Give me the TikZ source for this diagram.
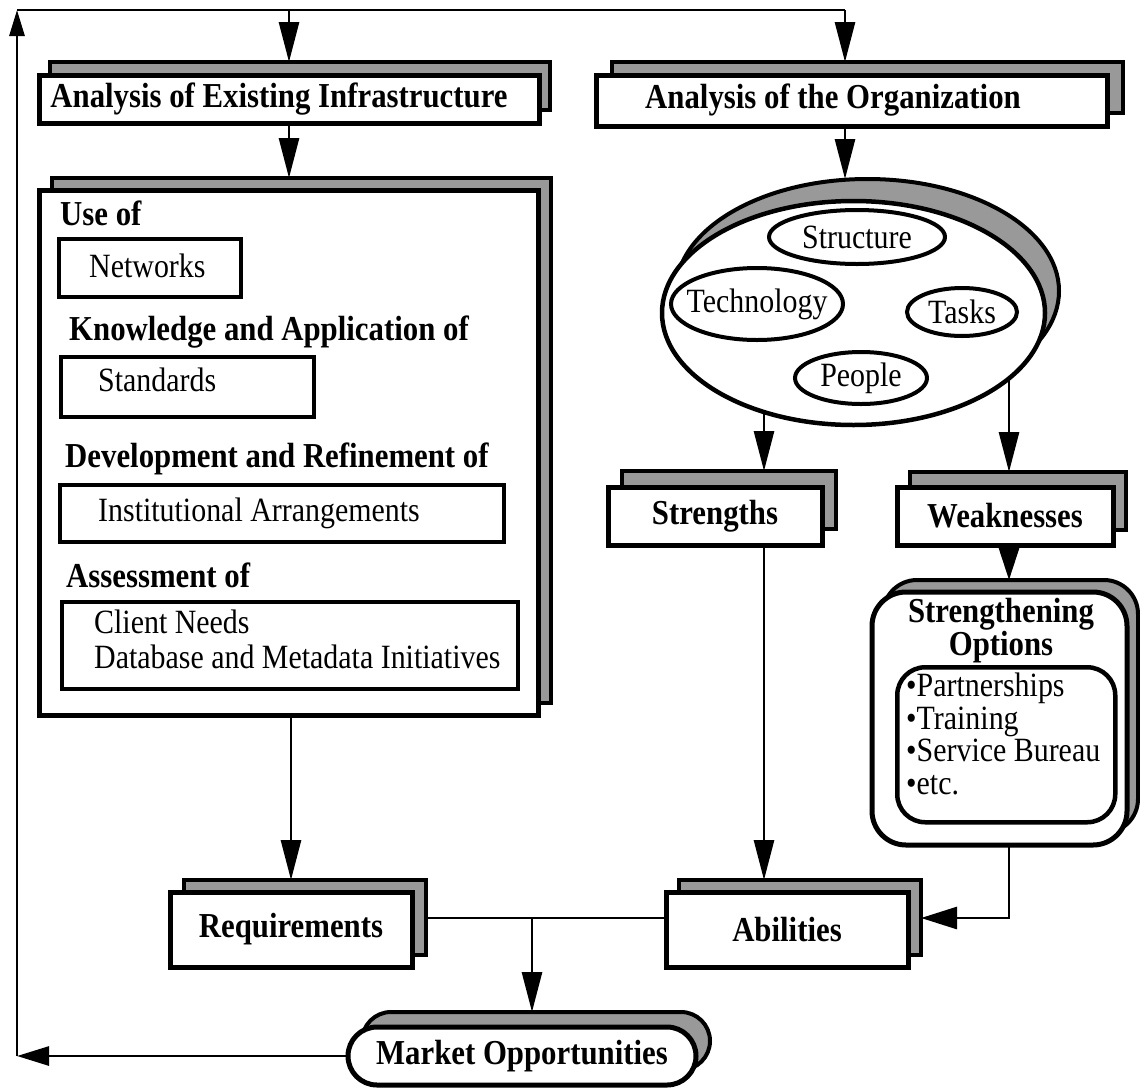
\documentclass[tikz,border=0pt]{standalone}
\usepackage{fontspec}
\setmainfont{Liberation Serif}[FakeStretch=0.88]
\usetikzlibrary{shadows,arrows.meta,calc,backgrounds,shapes.geometric,shapes.misc}
\definecolor{shadegray}{gray}{0.6}
\newcommand\boldlabel{\fontsize{35}{36}\selectfont\bfseries}
\newcommand\plainlabel{\fontsize{34}{35}\selectfont}
\tikzset{
  conn/.style={line width=2.8pt},
  bigtip/.style={-{Triangle[length=40pt,width=20pt]}},
  medtip/.style={-{Triangle[length=32pt,width=20pt]}},
  sidetip/.style={-{Triangle[length=36pt,width=22pt]}},
  lefttip/.style={-{Triangle[length=32pt,width=19pt]}},
  uptip/.style={-{Triangle[length=26pt,width=15pt]}},
  frontbox/.style={draw=black, line width=5pt, fill=white, inner sep=0pt, outer sep=0pt},
  shadowed/.style 2 args={copy shadow={shadow xshift=#1pt, shadow yshift=#2pt,
      fill=shadegray, draw=black, line width=4pt}},
  headlbl/.style={font=\boldlabel, inner sep=0pt},
  plainlbl/.style={font=\plainlabel, inner sep=0pt},
  itembox/.style={draw=black, line width=4pt, fill=white, inner sep=0pt, anchor=north west},
  oval/.style={ellipse, draw=black, line width=4pt, fill=white, inner sep=0pt,
      label={[font=\plainlabel, inner sep=0pt]center:#1}},
}
\begin{document}
\begin{tikzpicture}[x=1pt,y=-1pt]
\useasboundingbox (0,0) rectangle (1140,1087);

% ---- top row ----
\node[frontbox, shadowed={11}{13}, minimum width=500pt, minimum height=48pt, font=\boldlabel]
  (box1) at (289,99) {\hspace*{-20pt}Analysis of Existing Infrastructure};
\node[frontbox, shadowed={15}{13}, minimum width=511pt, minimum height=51pt, font=\boldlabel]
  (box2) at (852,100.5) {\hspace*{-38pt}Analysis of the Organization};

% ---- infrastructure panel ----
\node[frontbox, shadowed={12}{12}, minimum width=499pt, minimum height=525pt]
  (infra) at (289,452.5) {};
\node[headlbl, anchor=base west] (useof) at (60,225) {Use of};
\node[itembox, minimum width=182pt, minimum height=58pt] (netbox) at (57,237) {};
\node[plainlbl, anchor=base west] (nettxt) at (89,277) {Networks};
\node[headlbl, anchor=base west] (knowof) at (69,340) {Knowledge and Application of};
\node[itembox, minimum width=253pt, minimum height=60pt] (stdbox) at (59,355) {};
\node[plainlbl, anchor=base west] (stdtxt) at (98,391) {Standards};
\node[headlbl, anchor=base west] (devof) at (65,467) {Development and Refinement of};
\node[itembox, minimum width=444pt, minimum height=57pt] (instbox) at (58,483) {};
\node[plainlbl, anchor=base west] (insttxt) at (98,521) {Institutional Arrangements};
\node[headlbl, anchor=base west] (assessof) at (66,587) {Assessment of};
\node[itembox, minimum width=456pt, minimum height=87pt] (dbbox) at (60,600) {};
\node[plainlbl, anchor=base west] (clienttxt) at (94,633) {Client Needs};
\node[plainlbl, anchor=base west] (dbtxt) at (94,668) {Database and Metadata Initiatives};

% ---- organization ----
\node[ellipse, draw=black, fill=white, line width=4.5pt, inner sep=0pt,
      shadowed={14}{22}, minimum width=383pt, minimum height=224pt]
  (org) at (853.5,313) {};
\node[oval={Structure}, minimum width=176pt, minimum height=54pt] (structure) at (857,237) {};
\node[oval={Technology}, minimum width=172pt, minimum height=72pt] (technology) at (757,304) {};
\node[oval={Tasks}, minimum width=110pt, minimum height=48pt] (tasks) at (962,312) {};
\node[oval={People}, minimum width=132pt, minimum height=52pt] (people) at (861,378) {};

\node[frontbox, shadowed={14}{16}, minimum width=214pt, minimum height=58pt, font=\boldlabel]
  (strengths) at (715,516) {Strengths};
\node[frontbox, shadowed={13}{15}, minimum width=216pt, minimum height=58pt, font=\boldlabel]
  (weak) at (1005,516) {Weaknesses};

% ---- strengthening options ----
\node[frontbox, rounded corners=34pt, shadowed={11}{12}, minimum width=255pt, minimum height=253pt]
  (opts) at (999.5,718.5) {};
\node[headlbl, anchor=base] (optsA) at (1001,622) {Strengthening};
\node[headlbl, anchor=base] (optsB) at (1001,655) {Options};
\node[itembox, rounded corners=28pt, line width=4.5pt, minimum width=218pt, minimum height=155pt]
  (optlist) at (895,665) {};
\node[plainlbl, anchor=north west, align=left, font=\fontsize{34}{32.5}\selectfont]
  (optitems) at (906,673) {•Partnerships\\•Training\\•Service Bureau\\•etc.};

% ---- bottom row ----
\node[frontbox, shadowed={14}{12}, minimum width=242pt, minimum height=75pt, font=\boldlabel]
  (req) at (291,929.5) {Requirements};
\node[frontbox, shadowed={13}{12}, minimum width=242pt, minimum height=75pt, font=\boldlabel]
  (abil) at (787,929.5) {Abilities};
\node[frontbox, rounded rectangle, shadowed={14}{15}, minimum width=348pt, minimum height=58pt, font=\boldlabel]
  (market) at (522,1056) {Market Opportunities};

% ---- connectors ----
\coordinate (tl) at (17,10);
\coordinate (tr) at (845,10);
\coordinate (orgtop) at (845,179);
\coordinate (sx) at (764,0);
\coordinate (wx) at (1009,0);
\coordinate (jx) at (532,0);
\coordinate (ry) at (0,918);
\begin{scope}[on background layer]
  \draw[conn] (tl) -- (tr);
  \draw[conn,bigtip] (tl -| box1.north) -- ($(box1.north)+(0,13pt)$);
  \draw[conn,bigtip] (tr) -- ($(tr |- box2.north)+(0,13pt)$);
  \draw[conn,bigtip] (box1.south) -- ($(box1.south |- infra.north)+(0,12pt)$);
  \draw[conn,bigtip] (tr |- box2.south) -- (orgtop);
  \draw[conn,bigtip] (sx |- org.center) -- ($(sx |- strengths.north)+(0,16pt)$);
  \draw[conn,bigtip] (wx |- org.center) -- ($(wx |- weak.north)+(0,15pt)$);
  \draw[conn,medtip] (wx |- weak.south) -- ($(wx |- opts.north)+(0,12pt)$);
  \draw[conn,bigtip] (sx |- strengths.south) -- ($(sx |- abil.north)+(0,12pt)$);
  \draw[conn,sidetip] (wx |- opts.south) -- (wx |- ry) -- ($(abil.east |- ry)+(13pt,0)$);
  \draw[conn,bigtip] (req.north |- infra.south) -- ($(req.north)+(0,12pt)$);
  \draw[conn] ($(req.east |- ry)+(14pt,0)$) -- (abil.west |- ry);
  \draw[conn,bigtip] (jx |- ry) -- ($(jx |- market.north)+(0,15pt)$);
  \draw[conn,lefttip] (market.west) -- (market.west -| tl);
  \draw[conn,uptip] (market.west -| tl) -- (tl);
\end{scope}
\end{tikzpicture}
\end{document}
